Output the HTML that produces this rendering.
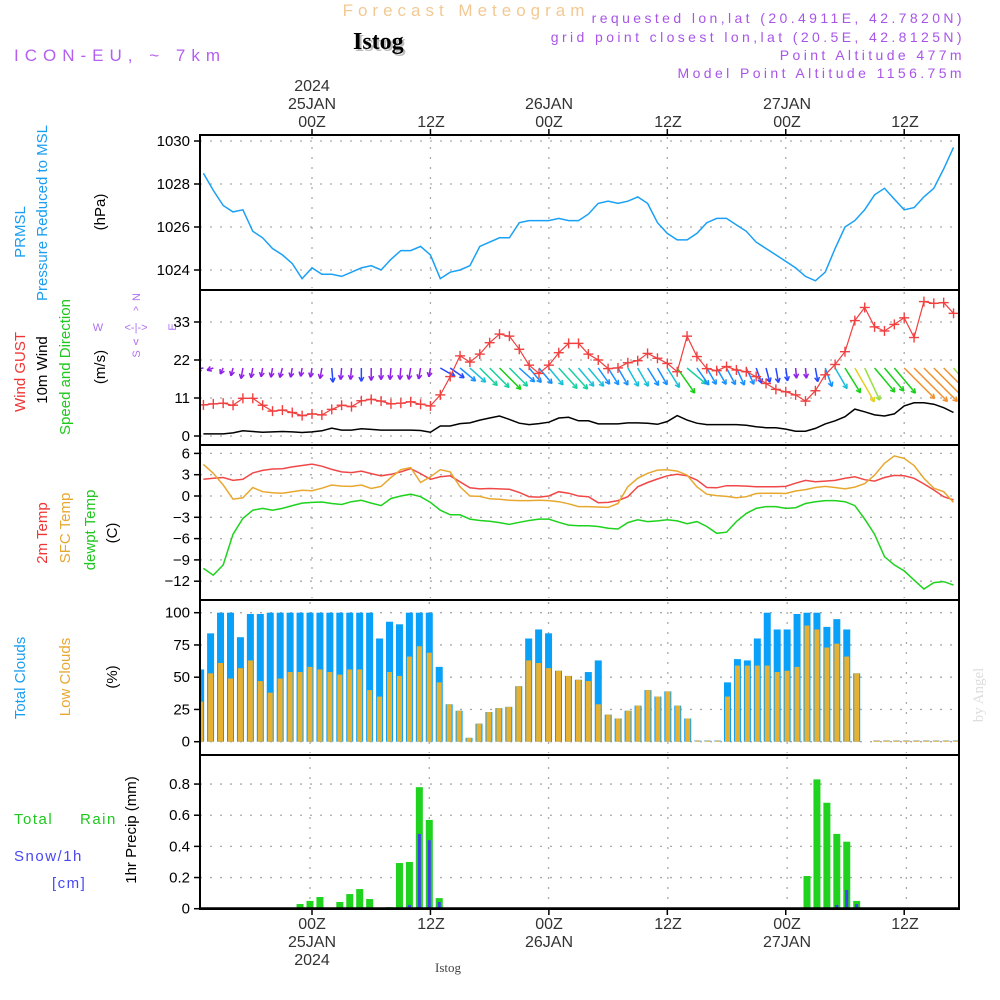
<!DOCTYPE html>
<html><head><meta charset="utf-8"><style>
html,body{margin:0;padding:0;background:#fff;}
svg{display:block;font-family:"Liberation Sans",sans-serif;}
</style></head><body>
<svg id="chart" width="1000" height="1000" viewBox="0 0 1000 1000" xmlns="http://www.w3.org/2000/svg">
<defs>
<clipPath id="c1"><rect x="200" y="136" width="759" height="154"/></clipPath>
<clipPath id="c2"><rect x="200" y="291" width="759" height="154"/></clipPath>
<clipPath id="c3"><rect x="200" y="446" width="759" height="154"/></clipPath>
<clipPath id="c4"><rect x="200" y="601" width="759" height="154"/></clipPath>
<clipPath id="c5"><rect x="200" y="756" width="759" height="153"/></clipPath>
</defs>
<text x="466" y="16" text-anchor="middle" font-size="17" letter-spacing="5" fill="#f3c993">Forecast Meteogram</text>
<text x="355" y="51" font-size="24" font-weight="bold" font-family="Liberation Serif,serif" fill="#bbb">Istog</text>
<text x="353" y="49" font-size="24" font-weight="bold" font-family="Liberation Serif,serif" fill="#000">Istog</text>
<text x="14" y="61" font-size="17" letter-spacing="6" fill="#b45ff0">ICON-EU, ~ 7km</text>
<g font-size="14" letter-spacing="3.4" fill="#a855e8" text-anchor="end">
<text x="965" y="23">requested lon,lat (20.4911E, 42.7820N)</text>
<text x="965" y="42">grid point closest lon,lat (20.5E, 42.8125N)</text>
<text x="965" y="60">Point Altitude 477m</text>
<text x="965" y="78">Model Point Altitude 1156.75m</text>
</g>
<g font-size="16" fill="#333" text-anchor="middle">
<text x="312" y="91">2024</text><text x="312" y="109">25JAN</text><text x="312" y="127">00Z</text>
<text x="431" y="127">12Z</text>
<text x="549" y="109">26JAN</text><text x="549" y="127">00Z</text>
<text x="668" y="127">12Z</text>
<text x="787" y="109">27JAN</text><text x="787" y="127">00Z</text>
<text x="905" y="127">12Z</text>
</g>
<g font-size="16" fill="#333" text-anchor="middle">
<text x="312" y="929">00Z</text><text x="312" y="947">25JAN</text><text x="312" y="965">2024</text>
<text x="431" y="929">12Z</text>
<text x="549" y="929">00Z</text><text x="549" y="947">26JAN</text>
<text x="668" y="929">12Z</text>
<text x="787" y="929">00Z</text><text x="787" y="947">27JAN</text>
<text x="905" y="929">12Z</text>
</g>
<text x="448" y="972" text-anchor="middle" font-size="13" font-family="Liberation Serif,serif" fill="#444">Istog</text>
<text transform="translate(983,695) rotate(-90)" text-anchor="middle" font-size="15" font-family="Liberation Serif,serif" fill="#ddd">by Angel</text>

<g font-size="15">
<text transform="translate(25,232) rotate(-90)" text-anchor="middle" fill="#1a9ef0">PRMSL</text>
<text transform="translate(47,213) rotate(-90)" text-anchor="middle" fill="#1a9ef0">Pressure Reduced to MSL</text>
<text transform="translate(105,212) rotate(-90)" text-anchor="middle" fill="#000">(hPa)</text>
<text transform="translate(25,372) rotate(-90)" text-anchor="middle" fill="#f03535">Wind GUST</text>
<text transform="translate(47,370) rotate(-90)" text-anchor="middle" fill="#000">10m Wind</text>
<text transform="translate(70,367) rotate(-90)" text-anchor="middle" fill="#1ec81e">Speed and Direction</text>
<text transform="translate(105,367) rotate(-90)" text-anchor="middle" fill="#000">(m/s)</text>
<text transform="translate(47,533) rotate(-90)" text-anchor="middle" fill="#f03535">2m Temp</text>
<text transform="translate(70,528) rotate(-90)" text-anchor="middle" fill="#e8a830">SFC Temp</text>
<text transform="translate(95,530) rotate(-90)" text-anchor="middle" fill="#1ec81e">dewpt Temp</text>
<text transform="translate(117,533) rotate(-90)" text-anchor="middle" fill="#000">(C)</text>
<text transform="translate(25,678) rotate(-90)" text-anchor="middle" fill="#1a9ef0">Total Clouds</text>
<text transform="translate(70,677) rotate(-90)" text-anchor="middle" fill="#e8a830">Low Clouds</text>
<text transform="translate(117,677) rotate(-90)" text-anchor="middle" fill="#000">(%)</text>
<text transform="translate(136,830) rotate(-90)" text-anchor="middle" fill="#000">1hr Precip (mm)</text>
<text x="14" y="824" fill="#1ec81e" letter-spacing="1.5">Total</text>
<text x="80" y="824" fill="#1ec81e" letter-spacing="1.5">Rain</text>
<text x="14" y="861" fill="#4848f0" letter-spacing="1.5">Snow/1h</text>
<text x="52" y="888" fill="#4848f0" letter-spacing="1.5">[cm]</text>
</g>
<g font-size="11" fill="#b070f0" text-anchor="middle">
<text transform="translate(140,297) rotate(-90)">N</text>
<text x="98" y="331">W</text>
<text x="136" y="331">&lt;-|-&gt;</text>
<text transform="translate(176,327) rotate(-90)">E</text>
<text x="136" y="314">^</text>
<text x="136" y="345">v</text>
<text transform="translate(140,354) rotate(-90)">S</text>
</g>

<g id="grid"></g>
<g id="series"></g>
<g id="frames"></g>
<g id="yticks" font-size="15" fill="#000" text-anchor="end"></g>
</svg>
<script>
// ---------- data ----------
const hourStart = -11; // hours relative to 25JAN 00Z
const pressure = [1028.5,1027.7,1027.0,1026.7,1026.8,1025.8,1025.5,1025.0,1024.7,1024.3,1023.6,1024.1,1023.8,1023.8,1023.7,1023.9,1024.1,1024.2,1024.0,1024.5,1024.9,1024.9,1025.1,1024.7,1023.6,1023.9,1024.0,1024.2,1025.1,1025.3,1025.5,1025.5,1026.2,1026.3,1026.3,1026.3,1026.4,1026.3,1026.3,1026.6,1027.1,1027.2,1027.1,1027.2,1027.4,1027.1,1026.2,1025.7,1025.4,1025.4,1025.7,1026.2,1026.4,1026.4,1026.1,1025.8,1025.3,1025.0,1024.7,1024.4,1024.1,1023.7,1023.5,1023.9,1025.0,1026.0,1026.3,1026.8,1027.5,1027.8,1027.3,1026.8,1026.9,1027.4,1027.8,1028.7,1029.7];
const gust = [9.0,9.3,9.5,8.9,10.9,10.9,8.9,7.2,7.5,6.8,5.9,6.4,6.1,7.7,8.9,8.5,10.2,10.6,10.1,9.3,9.5,9.9,9.2,8.7,11.9,17.2,23.2,21.4,23.7,27.0,29.5,28.9,25.1,20.5,18.1,20.5,24.1,26.8,26.8,23.7,22.0,19.5,19.7,21.2,21.8,23.9,22.5,21.0,18.6,28.9,23.0,19.5,18.9,20.1,19.1,18.6,17.2,15.2,13.5,12.8,11.9,10.1,13.1,17.7,20.7,24.4,33.4,37.2,31.6,30.4,32.3,34.2,28.5,38.9,38.4,38.6,35.5];
const windSpeed = [0.6,0.6,0.6,0.9,1.5,1.3,1.1,1.2,1.3,1.2,1.0,1.2,1.5,2.3,1.7,1.7,2.1,1.9,1.7,1.7,1.7,1.7,1.6,1.1,2.9,2.9,3.6,3.8,4.6,5.2,5.8,4.8,3.7,3.3,3.6,4.0,5.2,5.4,4.4,4.4,3.5,3.5,3.5,3.8,3.8,3.7,3.4,4.2,5.9,4.6,3.7,3.3,3.3,3.3,3.3,3.1,2.7,2.4,2.4,2.0,1.4,1.4,2.2,3.5,4.4,5.6,7.8,7.0,6.1,5.8,6.4,8.7,9.6,9.6,9.2,8.2,6.8];
const windDir = [260,250,205,195,190,190,190,190,195,190,190,190,190,175,185,185,180,180,180,185,185,190,190,190,120,125,130,132,135,135,135,135,132,140,140,140,138,138,140,140,145,148,150,150,150,148,150,148,145,130,145,150,150,152,155,155,160,165,170,172,175,175,170,160,150,148,150,155,140,140,140,135,135,135,135,135,140];
const temp2m = [2.35,2.5,2.6,2.2,2.35,3.25,3.6,3.8,3.85,4.1,4.3,4.5,4.2,3.75,3.4,3.3,3.5,3.15,2.85,3.05,3.4,3.85,3.15,2.35,2.7,2.85,2.0,1.15,1.0,1.05,1.0,0.95,0.5,-0.1,-0.15,0,0.6,0.4,0.0,-0.1,-0.95,-0.9,-0.65,-0.1,1.3,1.9,2.4,2.85,3.05,2.85,2.25,1.2,1.15,1.45,1.45,1.4,1.3,1.3,1.3,1.35,1.8,2.2,2.0,2.1,2.2,2.5,2.7,2.3,2.1,2.6,2.9,2.85,2.5,1.7,0.85,-0.1,-0.55];
const tempSfc = [4.45,3.2,1.55,-0.45,-0.25,1.2,0.6,0.45,0.4,0.6,0.8,0.75,1.1,1.55,1.4,1.35,1.55,1.05,1.35,2.6,3.7,4.0,1.9,2.7,3.7,3.4,1.3,0,-0.05,-0.4,-0.45,-0.6,-0.65,-0.65,-0.6,-0.65,-0.8,-1.1,-1.5,-1.5,-1.55,-1.6,-1.05,1.3,2.5,3.2,3.65,3.7,3.5,2.95,1.3,0.25,0.05,-0.05,-0.25,-0.1,0.35,0.4,0.4,0.35,0.7,0.9,1.2,1.35,1.2,1.0,1.25,1.75,2.95,4.6,5.65,5.3,4.3,2.5,1.1,0.6,-0.9];
const dewpt = [-10.2,-11.15,-9.7,-5.4,-3.15,-2.0,-1.75,-2.0,-1.75,-1.35,-1.0,-0.9,-0.85,-1.05,-1.2,-0.8,-0.6,-1.0,-1.35,-0.35,0,0.25,-0.1,-0.9,-2.0,-2.65,-2.65,-3.25,-3.45,-3.55,-3.75,-4.0,-3.7,-3.45,-3.25,-3.25,-3.7,-4.1,-4.2,-4.2,-4.3,-4.55,-4.65,-3.75,-3.35,-3.6,-3.5,-3.35,-3.5,-3.9,-3.6,-4.3,-5.25,-5.1,-3.6,-2.45,-1.75,-1.5,-1.5,-1.75,-1.65,-1.05,-0.8,-0.65,-0.65,-0.8,-1.35,-3.25,-5.4,-8.55,-9.7,-10.55,-11.85,-13.1,-12.2,-12.05,-12.55];
const cloudTotal = [56,84,100,100,81,99,99,100,100,100,100,100,100,100,100,100,100,100,80,93,91,100,100,100,58,29,24,3,14,23,26,27,43,80,87,84,55,51,48,54,63,21,18,24,28,40,35,39,28,18,0,0,0,46,64,63,80,100,87,87,99,100,100,89,95,87,53,null,0,0,0,0,0,0,0,0,0];
const cloudLow = [31,53,61,49,57,63,47,38,49,54,54,58,56,54,52,56,56,40,35,54,51,66,74,69,46,29,24,3,14,23,26,27,43,63,61,57,55,51,48,47,29,21,18,24,28,40,35,39,28,18,0,0,0,35,59,59,59,59,54,55,58,90,87,73,76,66,53,null,0,0,0,0,0,0,0,0,0];
const precipHours = [-1,0,1,3,4,5,6,8,9,10,11,12,13,50,51,52,53,54,55,56];
const rain = [0.03,0.05,0.075,0.043,0.094,0.126,0.062,0.01,0.293,0.30,0.78,0.57,0.068,0.21,0.83,0.68,0.48,0.43,0.05,0];
const snow = [0,0,0,0,0,0,0,0,0,0.024,0.48,0.44,0.043,0,0.005,0.005,0.024,0.12,0.03,0.003];
const pTicks = [1024,1026,1028,1030];
const wTicks = [0,11,22,33];
const tTicks = [-12,-9,-6,-3,0,3,6];
const cTicks = [0,25,50,75,100];
const rTicks = [0,0.2,0.4,0.6,0.8];
const timeGrid = [0,12,24,36,48,60];

// ---------- scales ----------
const x = h => 312 + 9.87*h;
const xb = h => 310 + 9.94*h;
const yP = v => 270 - (v-1024)*21.5;
const yW = v => 436 - v*3.455;
const yT = v => 496 - v*7.1;
const yC = v => 741.7 - v*1.29;
const yR = v => 908.7 - v*155.8;
const NS = 'http://www.w3.org/2000/svg';
function mk(tag, attrs, parent){const e=document.createElementNS(NS,tag);for(const k in attrs)e.setAttribute(k,attrs[k]);parent.appendChild(e);return e;}
const grid = document.getElementById('grid');
const series = document.getElementById('series');
const frames = document.getElementById('frames');
const yticks = document.getElementById('yticks');

const panels = [
 {top:135,bot:290,ticks:pTicks,sc:yP,fmt:v=>String(v)},
 {top:290,bot:445,ticks:wTicks,sc:yW,fmt:v=>String(v)},
 {top:445,bot:600,ticks:tTicks,sc:yT,fmt:v=>String(v).replace('-','\u2212')},
 {top:600,bot:755,ticks:cTicks,sc:yC,fmt:v=>String(v)},
 {top:755,bot:909,ticks:rTicks,sc:yR,fmt:v=>v===0?'0':v.toFixed(1)}
];
panels.forEach((p,i)=>{
  p.ticks.forEach(v=>{
    const y=p.sc(v);
    const g=mk('line',{x1:200,x2:959,y1:y,y2:y,stroke:'#aaa','stroke-width':1.3,'stroke-dasharray':'2,8'},grid);
    
    
    mk('line',{x1:194,x2:200,y1:y,y2:y,stroke:'#000','stroke-width':1.5},yticks);
    const tx=mk('text',{x:190,y:y+5},yticks);tx.textContent=p.fmt(v);
    
    
  });
  timeGrid.forEach(h=>{
    const gx = i>=3 ? xb(h) : x(h);
    const g=mk('line',{x1:gx,x2:gx,y1:p.top+2,y2:p.bot-2,stroke:'#aaa','stroke-width':1.3,'stroke-dasharray':'2,8'},grid);
    
    
  });
  const r=mk('rect',{x:200,y:p.top,width:759,height:p.bot-p.top,fill:'none',stroke:'#000','stroke-width':2},frames);
  
  
});
timeGrid.forEach(h=>{
  mk('line',{x1:x(h),x2:x(h),y1:129,y2:135,stroke:'#000','stroke-width':1.5},frames);
  mk('line',{x1:x(h),x2:x(h),y1:909,y2:915,stroke:'#000','stroke-width':1.5},frames);
});

function line(arr, sc, color, clip, name, w){
  const pts = arr.map((v,i)=>x(hourStart+i).toFixed(1)+','+sc(v).toFixed(1)).join(' ');
  const pl=mk('polyline',{points:pts,fill:'none',stroke:color,'stroke-width':w||1.5,'clip-path':'url(#'+clip+')'},series);
  
  
}
line(pressure,yP,'#1aa0f5','c1','pressure-line');
line(windSpeed,yW,'#000','c2','wind-speed-line');
function wcol(s){if(s<2)return '#9020e8';if(s<3)return '#2848ff';if(s<3.8)return '#1a90ff';if(s<4.6)return '#18c0d8';if(s<5.5)return '#18d0a0';if(s<6.5)return '#18d018';if(s<7.2)return '#98e040';if(s<8)return '#e8d020';return '#f09030';}
windDir.forEach((d,i)=>{
  const s=windSpeed[i], h=hourStart+i, L=4+4.5*s, a=d*Math.PI/180;
  const x0=x(h), y0=368, x1=x0+L*Math.sin(a), y1=y0-L*Math.cos(a);
  const g=mk('g',{stroke:wcol(s),'stroke-width':1.5,fill:'none','clip-path':'url(#c2)'},series);
  
  
  mk('line',{x1:x0,y1:y0,x2:x1,y2:y1},g);
  const hl=5;
  [a+Math.PI-0.5,a+Math.PI+0.5].forEach(b=>mk('line',{x1:x1,y1:y1,x2:x1+hl*Math.sin(b),y2:y1-hl*Math.cos(b)},g));
});
line(gust,yW,'#f04040','c2','wind-gust-line',1.2);
gust.forEach((v,i)=>{
  const cx=x(hourStart+i), cy=yW(v);
  const g=mk('g',{stroke:'#f04040','stroke-width':1.4,'clip-path':'url(#c2)'},series);
  
  
  mk('line',{x1:cx-5,x2:cx+5,y1:cy,y2:cy},g);
  mk('line',{x1:cx,x2:cx,y1:cy-5,y2:cy+5},g);
});
line(temp2m,yT,'#f04848','c3','temp-2m-line');
line(tempSfc,yT,'#e8a830','c3','temp-sfc-line');
line(dewpt,yT,'#1ed21e','c3','dewpoint-line');
cloudTotal.forEach((v,i)=>{
  if(v===null)return;
  const h=hourStart+i, cx=xb(h);
  const hv=Math.max(yC(0)-yC(v),1.5);
  const r=mk('rect',{x:cx-3.5,y:yC(0)-hv,width:7,height:hv,fill:v===0?'#9ccbe8':'#08a0f8','clip-path':'url(#c4)'},series);
  
  
  const lv=cloudLow[i];
  const hl=Math.max(yC(0)-yC(lv),1);
  const r2=mk('rect',{x:cx-2.5,y:yC(0)-hl,width:5,height:hl,fill:'#e8b030','clip-path':'url(#c4)'},series);
  
  
});
precipHours.forEach((h,i)=>{
  const cx=xb(h);
  if(rain[i]>0){
    const r=mk('rect',{x:cx-3.5,y:yR(rain[i]),width:7,height:yR(0)-yR(rain[i]),fill:'#1ed21e'},series);
    
    
  }
  if(snow[i]>0){
    const r=mk('rect',{x:cx-1.5,y:yR(snow[i]),width:3,height:Math.max(yR(0)-yR(snow[i]),1),fill:'#4040f0'},series);
    
    
  }
});
mk('line',{x1:200,x2:959,y1:908.5,y2:908.5,stroke:'#000','stroke-width':2.5},frames);
</script>
</body></html>
